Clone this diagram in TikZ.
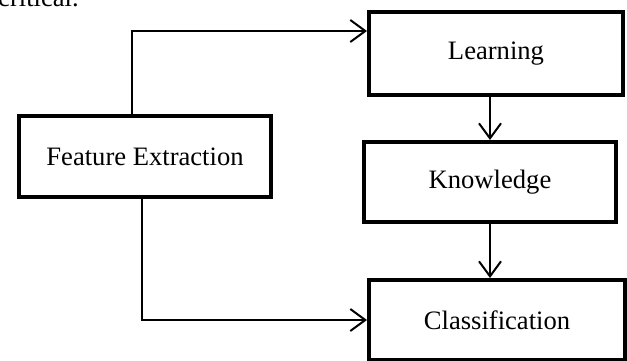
\documentclass[tikz,border=0pt]{standalone}
\usepackage{fontspec}
\setmainfont{Liberation Serif}
\usetikzlibrary{arrows.meta}
\tikzset{
  box/.style={draw=black, line width=4pt, fill=white, inner sep=0pt,
    font=\fontsize{26.6}{30}\selectfont},
  arr/.style={draw=black, line width=2pt,
    -{Straight Barb[length=15pt,width=22pt]}},
}
\begin{document}
\begin{tikzpicture}[x=1pt,y=-1pt]
  \useasboundingbox (0,0) rectangle (627,360);
  \clip (0,0) rectangle (627,360);
  \node[anchor=base west, inner sep=0pt, font=\fontsize{26.6}{30}\selectfont] (crit) at (-2,6) {critical.};
  \node[box, minimum width=254pt, minimum height=83pt] (learn) at (496,53.5) {Learning};
  \node[box, minimum width=252pt, minimum height=81pt] (fe) at (145,156.5) {Feature Extraction};
  \node[box, minimum width=252pt, minimum height=80pt] (know) at (490,182) {Knowledge};
  \node[box, minimum width=256pt, minimum height=80pt] (cls) at (497,320) {Classification};
  \draw[arr] (132,0 |- fe.north) |- (learn.west |- 0,31);
  \draw[arr] (142,0 |- fe.south) |- (cls.west);
  \draw[arr] (490,0 |- learn.south) -- (490,0 |- know.north);
  \draw[arr] (490,0 |- know.south) -- (490,0 |- cls.north);
\end{tikzpicture}
\end{document}
